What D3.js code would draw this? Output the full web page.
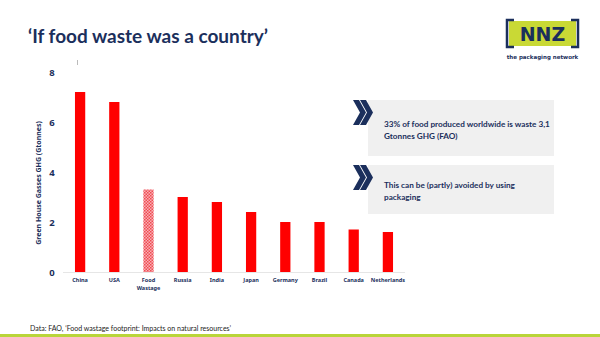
<!DOCTYPE html>
<html><head><meta charset="utf-8">
<script src="https://cdn.jsdelivr.net/npm/d3@7"></script>
<style>html,body{margin:0;padding:0;background:#fff;}svg{display:block;}</style>
</head><body>
<script>
const categories = ["China","USA","Food Wastage","Russia","India","Japan","Germany","Brazil","Canada","Netherlands"];
const values = [7.2, 6.8, 3.3, 3.0, 2.8, 2.4, 2.0, 2.0, 1.7, 1.6];
const highlighted = ["Food Wastage"];
const yTicks = [0, 2, 4, 6, 8];
const title = "\u2018If food waste was a country\u2019";
const yLabel = "Green House Gasses GHG (Gtonnes)";
const notes = [
  ["33% of food produced worldwide is waste 3,1", "Gtonnes GHG (FAO)"],
  ["This can be (partly) avoided by using", "packaging"]
];
const source = "Data: FAO, \u2018Food wastage footprint: Impacts on natural resources\u2019";

const W = 600, H = 337;
const navy = "#1b2f5c";
const svg = d3.select("body").append("svg").attr("width", W).attr("height", H);

const defs = svg.append("defs");
const pat = defs.append("pattern").attr("id","chk").attr("patternUnits","userSpaceOnUse")
  .attr("width",3).attr("height",3);
pat.append("rect").attr("width",3).attr("height",3).attr("fill","#f9b0b3");
pat.append("rect").attr("width",1.5).attr("height",1.5).attr("fill","#f04a53");
pat.append("rect").attr("x",1.5).attr("y",1.5).attr("width",1.5).attr("height",1.5).attr("fill","#f04a53");

// title
svg.append("text").attr("x",28).attr("y",43).text(title)
  .attr("font-family","Lato, 'Open Sans', sans-serif").attr("font-weight","bold")
  .attr("font-size",19).attr("fill",navy);

// scales
const x = d3.scaleBand().domain(categories).range([63,405]).paddingInner(0.7).paddingOuter(0.35);
const y = d3.scaleLinear().domain([0,8]).range([272,72]);

// baseline
svg.append("line").attr("x1",63).attr("x2",405).attr("y1",y(0)+0.5).attr("y2",y(0)+0.5)
  .attr("stroke","#e6e6e6").attr("stroke-width",1);

// small top tick artifact
svg.append("line").attr("x1",77.5).attr("x2",77.5).attr("y1",60).attr("y2",65)
  .attr("stroke","#bbbbbb").attr("stroke-width",1);

// y axis
const yAxis = d3.axisLeft(y).tickValues(yTicks).tickSize(0).tickPadding(0).tickFormat(d3.format("d"));
const ya = svg.append("g").attr("transform","translate(55,0)").call(yAxis);
ya.select(".domain").remove();
ya.selectAll("text").attr("font-family","'Noto Sans', 'Open Sans', sans-serif").attr("font-weight","bold")
  .attr("font-size",9.5).attr("fill",navy).attr("text-anchor","middle").attr("dx",-3);

// y label
svg.append("text").attr("transform","translate(41,183) rotate(-90)").attr("text-anchor","middle")
  .text(yLabel).attr("font-family","'Noto Sans', 'Open Sans', sans-serif").attr("font-weight","bold")
  .attr("font-size",7).attr("fill",navy);

// bars
svg.selectAll("rect.bar").data(categories).join("rect").attr("class","bar")
  .attr("x", d => x(d)).attr("width", x.bandwidth())
  .attr("y", (d,i) => y(values[i])).attr("height", (d,i) => y(0) - y(values[i]))
  .attr("fill", d => highlighted.includes(d) ? "url(#chk)" : "#ff0000");

// x labels
const xl = svg.append("g");
categories.forEach(c => {
  const parts = c === "Food Wastage" ? ["Food","Wastage"] : [c];
  parts.forEach((p,j) => {
    xl.append("text").attr("x", x(c) + x.bandwidth()/2).attr("y", 282 + j*7.5)
      .attr("text-anchor","middle").text(p)
      .attr("font-family","'Noto Sans', 'Open Sans', sans-serif").attr("font-weight","bold")
      .attr("font-size",5.5).attr("fill",navy);
  });
});

// note boxes
const boxes = [{y0:100,y1:156},{y0:165,y1:214}];
boxes.forEach((b,i) => {
  svg.append("rect").attr("x",368).attr("y",b.y0).attr("width",186).attr("height",b.y1-b.y0).attr("fill","#f0f0f0");
  const cx = 353, cy = b.y0;
  const chev = (ox) => `M${ox},${cy} L${ox+6},${cy} L${ox+13},${cy+12.5} L${ox+6},${cy+25} L${ox},${cy+25} L${ox+7},${cy+12.5} Z`;
  svg.append("path").attr("d",chev(cx)).attr("fill",navy);
  svg.append("path").attr("d",chev(cx+7)).attr("fill",navy);
  notes[i].forEach((t,j) => {
    svg.append("text").attr("x",384).attr("y", (i===0?127:188) + j*11.5).text(t)
      .attr("font-family","Lato, 'Open Sans', sans-serif").attr("font-weight","bold")
      .attr("font-size",8.2).attr("fill",navy);
  });
});

// logo
const lg = svg.append("g");
lg.append("rect").attr("x",509).attr("y",21).attr("width",67).attr("height",25).attr("fill","#c9d935");
lg.append("path").attr("d","M514,20 L507,20 L507,47 L514,47").attr("fill","none").attr("stroke",navy).attr("stroke-width",2.5);
lg.append("path").attr("d","M571,20 L578,20 L578,47 L571,47").attr("fill","none").attr("stroke",navy).attr("stroke-width",2.5);
lg.append("text").attr("x",542.5).attr("y",41).attr("text-anchor","middle").text("NNZ")
  .attr("font-family","'DejaVu Sans', sans-serif").attr("font-weight","bold").attr("font-size",19).attr("fill",navy);
lg.append("text").attr("x",542.5).attr("y",59).attr("text-anchor","middle").text("the packaging network")
  .attr("font-family","'DejaVu Sans', sans-serif").attr("font-weight","bold").attr("font-size",5.5).attr("fill",navy);

// source
svg.append("text").attr("x",30).attr("y",331).text(source)
  .attr("font-family","Lato, 'Open Sans', sans-serif").attr("font-size",7).attr("fill","#222");

// bottom green line
svg.append("rect").attr("x",0).attr("y",334).attr("width",W).attr("height",3).attr("fill","#b9d53a");
</script>
</body></html>
